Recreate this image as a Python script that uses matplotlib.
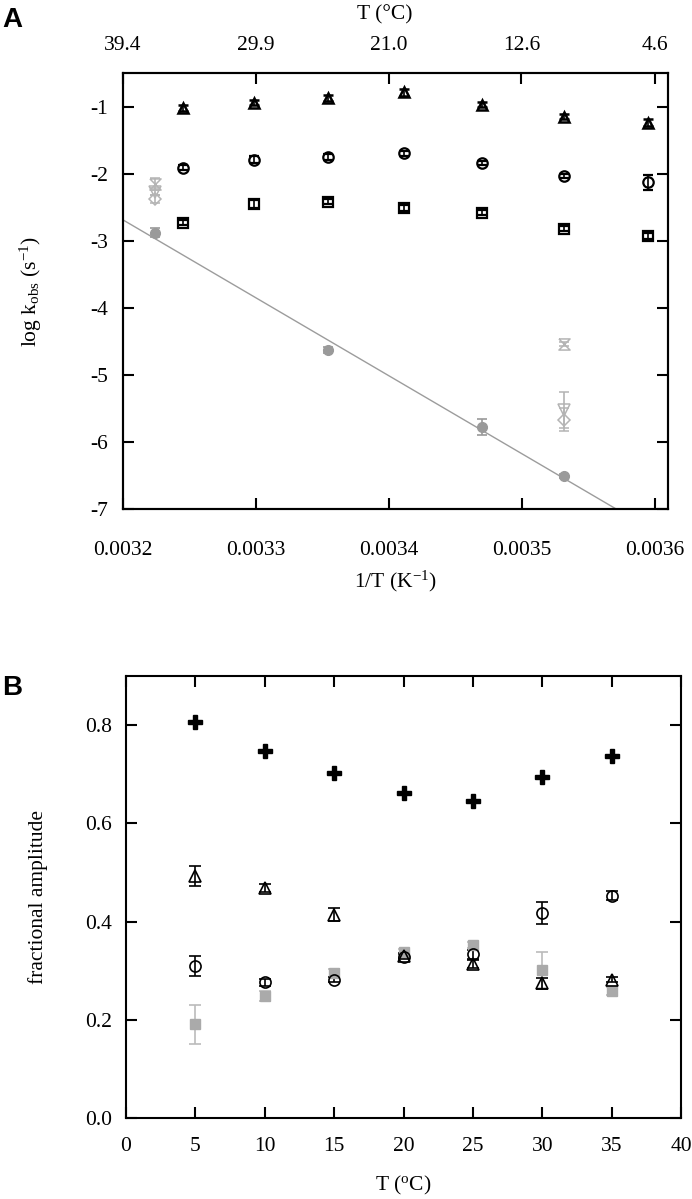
import numpy as np
import matplotlib
matplotlib.use('Agg')
import matplotlib.pyplot as plt

plt.rcParams['font.family'] = ['Liberation Serif', 'DejaVu Serif']
plt.rcParams['mathtext.fontset'] = 'custom'
plt.rcParams['mathtext.rm'] = 'Liberation Serif'
plt.rcParams['mathtext.it'] = 'Liberation Serif:italic'
plt.rcParams['axes.unicode_minus'] = False

# ---- panel A data: log k_obs vs 1/T ----
tempsA = np.array([35, 30, 25, 20, 15, 10, 5])
invT = 1.0 / (tempsA + 273.15)
logk_tri = [-1.02, -0.94, -0.87, -0.79, -0.97, -1.15, -1.24]
logk_tri_err = [0.04, 0.04, 0.04, 0.05, 0.04, 0.04, 0.05]
logk_circ = [-1.91, -1.79, -1.75, -1.70, -1.84, -2.04, -2.13]
logk_circ_err = [0.04, 0.05, 0.04, 0.04, 0.03, 0.03, 0.11]
logk_sq = [-2.73, -2.45, -2.42, -2.51, -2.58, -2.82, -2.93]
logk_sq_err = [0.04, 0.06, 0.04, 0.04, 0.04, 0.04, 0.04]

# slow phase (grey, filled circles) and its linear fit
tempsSlow = np.array([37, 25, 15, 10])
logk_slow = [-2.88, -4.63, -5.78, -6.51]
logk_slow_err = [0.07, 0.04, 0.12, 0.03]
fit_x = [0.0032, 0.003571]
fit_y = [-2.69, -7.0]

# extra grey points at 37 and 10 C
tempsExtra = np.array([37, 10])
logk_hour = [-2.15, -4.54]
logk_hour_err = [0.09, 0.03]
logk_vtri = [-2.27, -5.52]
logk_vtri_err = [0.05, 0.27]
logk_diam = [-2.38, -5.67]
logk_diam_err = [0.06, 0.17]

topTicksC = [39.4, 29.9, 21.0, 12.6, 4.6]

# ---- panel B data: fractional amplitude vs T ----
tempsB = [5, 10, 15, 20, 25, 30, 35]
amp_plus = [0.806, 0.748, 0.703, 0.662, 0.645, 0.695, 0.738]
amp_tri = [0.493, 0.469, 0.414, 0.330, 0.313, 0.274, 0.282]
amp_tri_err = [0.021, 0.008, 0.013, 0.005, 0.008, 0.012, 0.005]
amp_circ = [0.309, 0.276, 0.282, 0.328, 0.333, 0.418, 0.453]
amp_circ_err = [0.020, 0.007, 0.006, 0.005, 0.010, 0.022, 0.010]
amp_sq = [0.191, 0.248, 0.295, 0.337, 0.353, 0.302, 0.258]
amp_sq_err = [0.040, 0.010, 0.008, 0.008, 0.006, 0.037, 0.008]

grey = '#b4b4b4'
dgrey = '#9a9a9a'

fig = plt.figure(figsize=(6.92, 11.99), dpi=100)

# ================= panel A =================
axA = fig.add_axes([123/692, 1-509/1199, 545/692, 436/1199])
ekw = dict(capsize=3.5, elinewidth=1.2, capthick=1.2, linestyle='none')

axA.plot(fit_x, fit_y, color='#9c9c9c', lw=1.0, zorder=1)
axA.errorbar(invT, logk_tri, yerr=logk_tri_err, marker='^', ms=7, mfc='none',
             mec='k', mew=1.8, color='k', **ekw)
axA.errorbar(invT, logk_circ, yerr=logk_circ_err, marker='o', ms=7.5, mfc='none',
             mec='k', mew=1.6, color='k', **ekw)
axA.errorbar(invT, logk_sq, yerr=logk_sq_err, marker='s', ms=7, mfc='none',
             mec='k', mew=1.6, color='k', **ekw)

invS = 1.0 / (tempsSlow + 273.15)
axA.errorbar(invS, logk_slow, yerr=logk_slow_err, marker='o', ms=7, mfc=dgrey,
             mec=dgrey, color=dgrey, **ekw)

invE = 1.0 / (tempsExtra + 273.15)
hourglass = [(-1, 1), (1, 1), (-1, -1), (1, -1), (-1, 1)]
axA.errorbar(invE, logk_hour, yerr=logk_hour_err, marker=hourglass, ms=8,
             mfc='none', mec=grey, mew=1.1, color=grey, **ekw)
axA.errorbar(invE, logk_vtri, yerr=logk_vtri_err, marker='v', ms=8,
             mfc='none', mec=grey, mew=1.1, color=grey, **ekw)
axA.errorbar(invE, logk_diam, yerr=logk_diam_err, marker='D', ms=6,
             mfc='none', mec=grey, mew=1.1, color=grey, **ekw)

axA.set_xlim(0.0032, 0.00361)
axA.set_ylim(-7, -0.5)
axA.set_xticks([0.0032, 0.0033, 0.0034, 0.0035, 0.0036])
axA.set_xticklabels(['0.0032', '0.0033', '0.0034', '0.0035', '0.0036'])
axA.set_yticks([-7, -6, -5, -4, -3, -2, -1])
axA.tick_params(direction='in', length=8, width=1.5, labelsize=15.5,
                right=True)
axA.tick_params(axis='x', pad=23)
axA.tick_params(axis='y', pad=11)
axA.set_xlabel('1/T (K$^{-1}$)', fontsize=15.5)
axA.set_ylabel('log k$_{\\rm obs}$ (s$^{-1}$)', fontsize=15.5)
axA.xaxis.set_label_coords(0.5, -0.137)
axA.yaxis.set_label_coords(-0.145, 0.5)
for s in axA.spines.values():
    s.set_linewidth(1.5)

axT = axA.twiny()
axT.set_xlim(axA.get_xlim())
axT.set_xticks([1.0 / (t + 273.15) for t in topTicksC])
axT.set_xticklabels(['%.1f' % t for t in topTicksC])
axT.tick_params(direction='in', length=8, width=1.5, labelsize=15.5, pad=13)
axT.set_xlabel('T (°C)', fontsize=15.5)
axT.xaxis.set_label_coords(0.48, 1.122)
for s in axT.spines.values():
    s.set_linewidth(1.5)

# ================= panel B =================
axB = fig.add_axes([126/692, 1-1118/1199, 555/692, 442/1199])
ekwB = dict(capsize=4, elinewidth=1.2, capthick=1.2, linestyle='none')
axB.errorbar(tempsB, amp_sq, yerr=amp_sq_err, marker='s', ms=7, mfc='#aaaaaa',
             mec='#aaaaaa', color='#bbbbbb', **ekwB)
axB.errorbar(tempsB, amp_circ, yerr=amp_circ_err, marker='o', ms=8, mfc='none',
             mec='k', mew=1.2, color='k', **ekwB)
axB.errorbar(tempsB, amp_tri, yerr=amp_tri_err, marker='^', ms=9, mfc='none',
             mec='k', mew=1.2, color='k', **ekwB)
axB.plot(tempsB, amp_plus, linestyle='none', marker='P', ms=10, mfc='k',
         mec='k')

axB.set_xlim(0, 40)
axB.set_ylim(0, 0.9)
axB.set_xticks([0, 5, 10, 15, 20, 25, 30, 35, 40])
axB.set_yticks([0.0, 0.2, 0.4, 0.6, 0.8])
axB.set_yticklabels(['0.0', '0.2', '0.4', '0.6', '0.8'])
axB.tick_params(direction='in', length=8, width=1.5, labelsize=15.5,
                right=True, top=True)
axB.tick_params(axis='x', pad=14)
axB.tick_params(axis='y', pad=10)
axB.set_xlabel('T ($^{\\rm o}$C)', fontsize=15.5)
axB.set_ylabel('fractional amplitude', fontsize=15.5)
axB.xaxis.set_label_coords(0.5, -0.127)
axB.yaxis.set_label_coords(-0.14, 0.5)
for s in axB.spines.values():
    s.set_linewidth(1.5)

fig.text(0.003, 1-20/1199, 'A', fontsize=20, fontweight='bold',
         family='Liberation Sans', va='center', ha='left')
fig.text(0.003, 1-688/1199, 'B', fontsize=20, fontweight='bold',
         family='Liberation Sans', va='center', ha='left')

fig.savefig('out.png', dpi=100)
